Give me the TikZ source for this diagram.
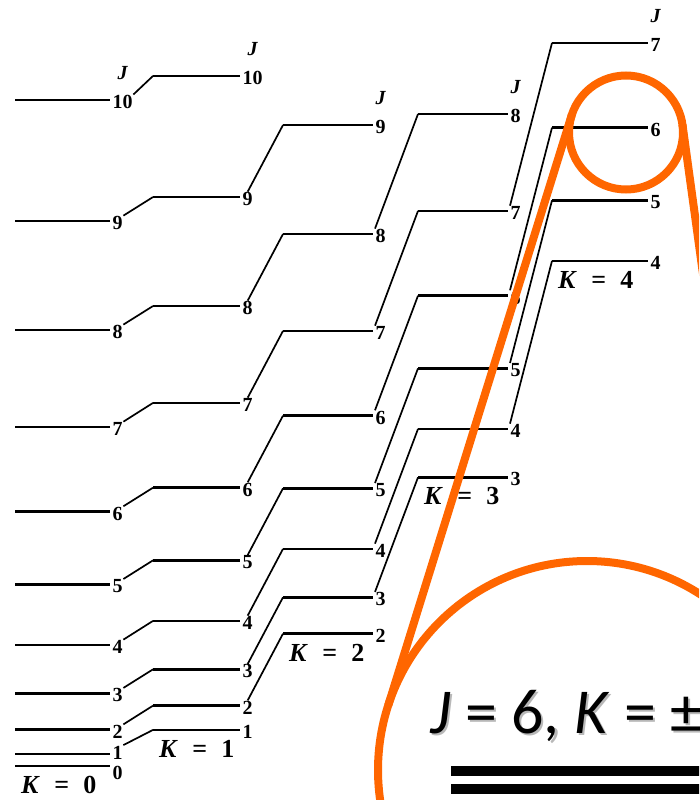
\documentclass[tikz,border=0pt]{standalone}
\usepackage{fontspec}
\setmainfont{Liberation Serif}
\newfontfamily\zoomfont{Carlito}
\usetikzlibrary{positioning,calc}
\definecolor{zoomorange}{RGB}{255,102,0}
\begin{document}
\begin{tikzpicture}[x=1pt,y=-1pt,
  level/.style={line width=2.6pt},
  jump/.style={line width=1.7pt},
  jnum/.style={font=\fontsize{20}{20}\selectfont\bfseries,inner sep=0.5pt,anchor=west,xshift=2pt},
  jhead/.style={font=\fontsize{20}{20}\selectfont\bfseries\itshape,inner sep=1pt},
  kname/.style={font=\fontsize{26}{26}\selectfont\bfseries,inner sep=0pt},
  zoomring/.style={draw=zoomorange,circle,line width=8pt,inner sep=0pt,outer sep=0pt},
  zoomline/.style={draw=zoomorange,line width=8pt},
  bar/.style={line width=10pt}]
\useasboundingbox (0,0) rectangle (699,800);
\clip (0,0) rectangle (699,800);
% levels, one column per K
\foreach \k/\xs/\xe/\jmax in {0/15/110/10,1/153/240/10,2/283/373/9,3/418/508/8,4/552/648/7}{
  \foreach \j in {\k,...,\jmax}{
    \pgfmathsetmacro\yy{766-6.055*\j*(\j+1)-24*\k*\k}
    \pgfmathsetmacro\dy{ifthenelse(\j==0,-7,ifthenelse(\j+\k==1,1.5,-2))}
    \coordinate (s-\k-\j) at (\xs,\yy);
    \coordinate (e-\k-\j) at (\xe,\yy);
    \draw[level] (s-\k-\j) -- (e-\k-\j);
    \node[jnum,yshift=\dy pt] (n-\k-\j) at (e-\k-\j) {\j};
  }
  \node[jhead,above=14pt of n-\k-\jmax] (jh-\k) {J};
  \node[kname,below right=10pt and 6pt of s-\k-\k] (kn-\k) {\textit{K}\hspace{0.55em}=\hspace{0.55em}\k};
}
% same J, next K
\foreach \k/\jmax/\anc in {0/10/north east,1/9/north,2/8/north west,3/7/north west}{
  \pgfmathtruncatemacro\kk{\k+1}
  \foreach \j in {\kk,...,\jmax}
    \draw[jump] (n-\k-\j.\anc) -- (s-\kk-\j);
}
% zoom on J=6, K=4
\node[zoomring,minimum size=114pt] (zoomc) at (626,132.5) {};
\node[zoomring,minimum size=418pt] (bigc) at (587,770) {};
\draw[zoomline] (zoomc.162.7) -- (bigc.162.7);
\draw[zoomline] (zoomc.8) -- (bigc.37);
\node[font=\zoomfont\fontsize{64}{64}\selectfont,anchor=base west,inner sep=0pt,text=black!28] (capshadow) at (432.5,735.5) {\textit{J} = 6, \textit{K} = ±};
\node[font=\zoomfont\fontsize{64}{64}\selectfont,anchor=base west,inner sep=0pt] (caption) at (430,733) {\textit{J} = 6, \textit{K} = ±};
\draw[bar] (451,771) -- ++(260,0);
\draw[bar] (451,789) -- ++(260,0);
\end{tikzpicture}
\end{document}
